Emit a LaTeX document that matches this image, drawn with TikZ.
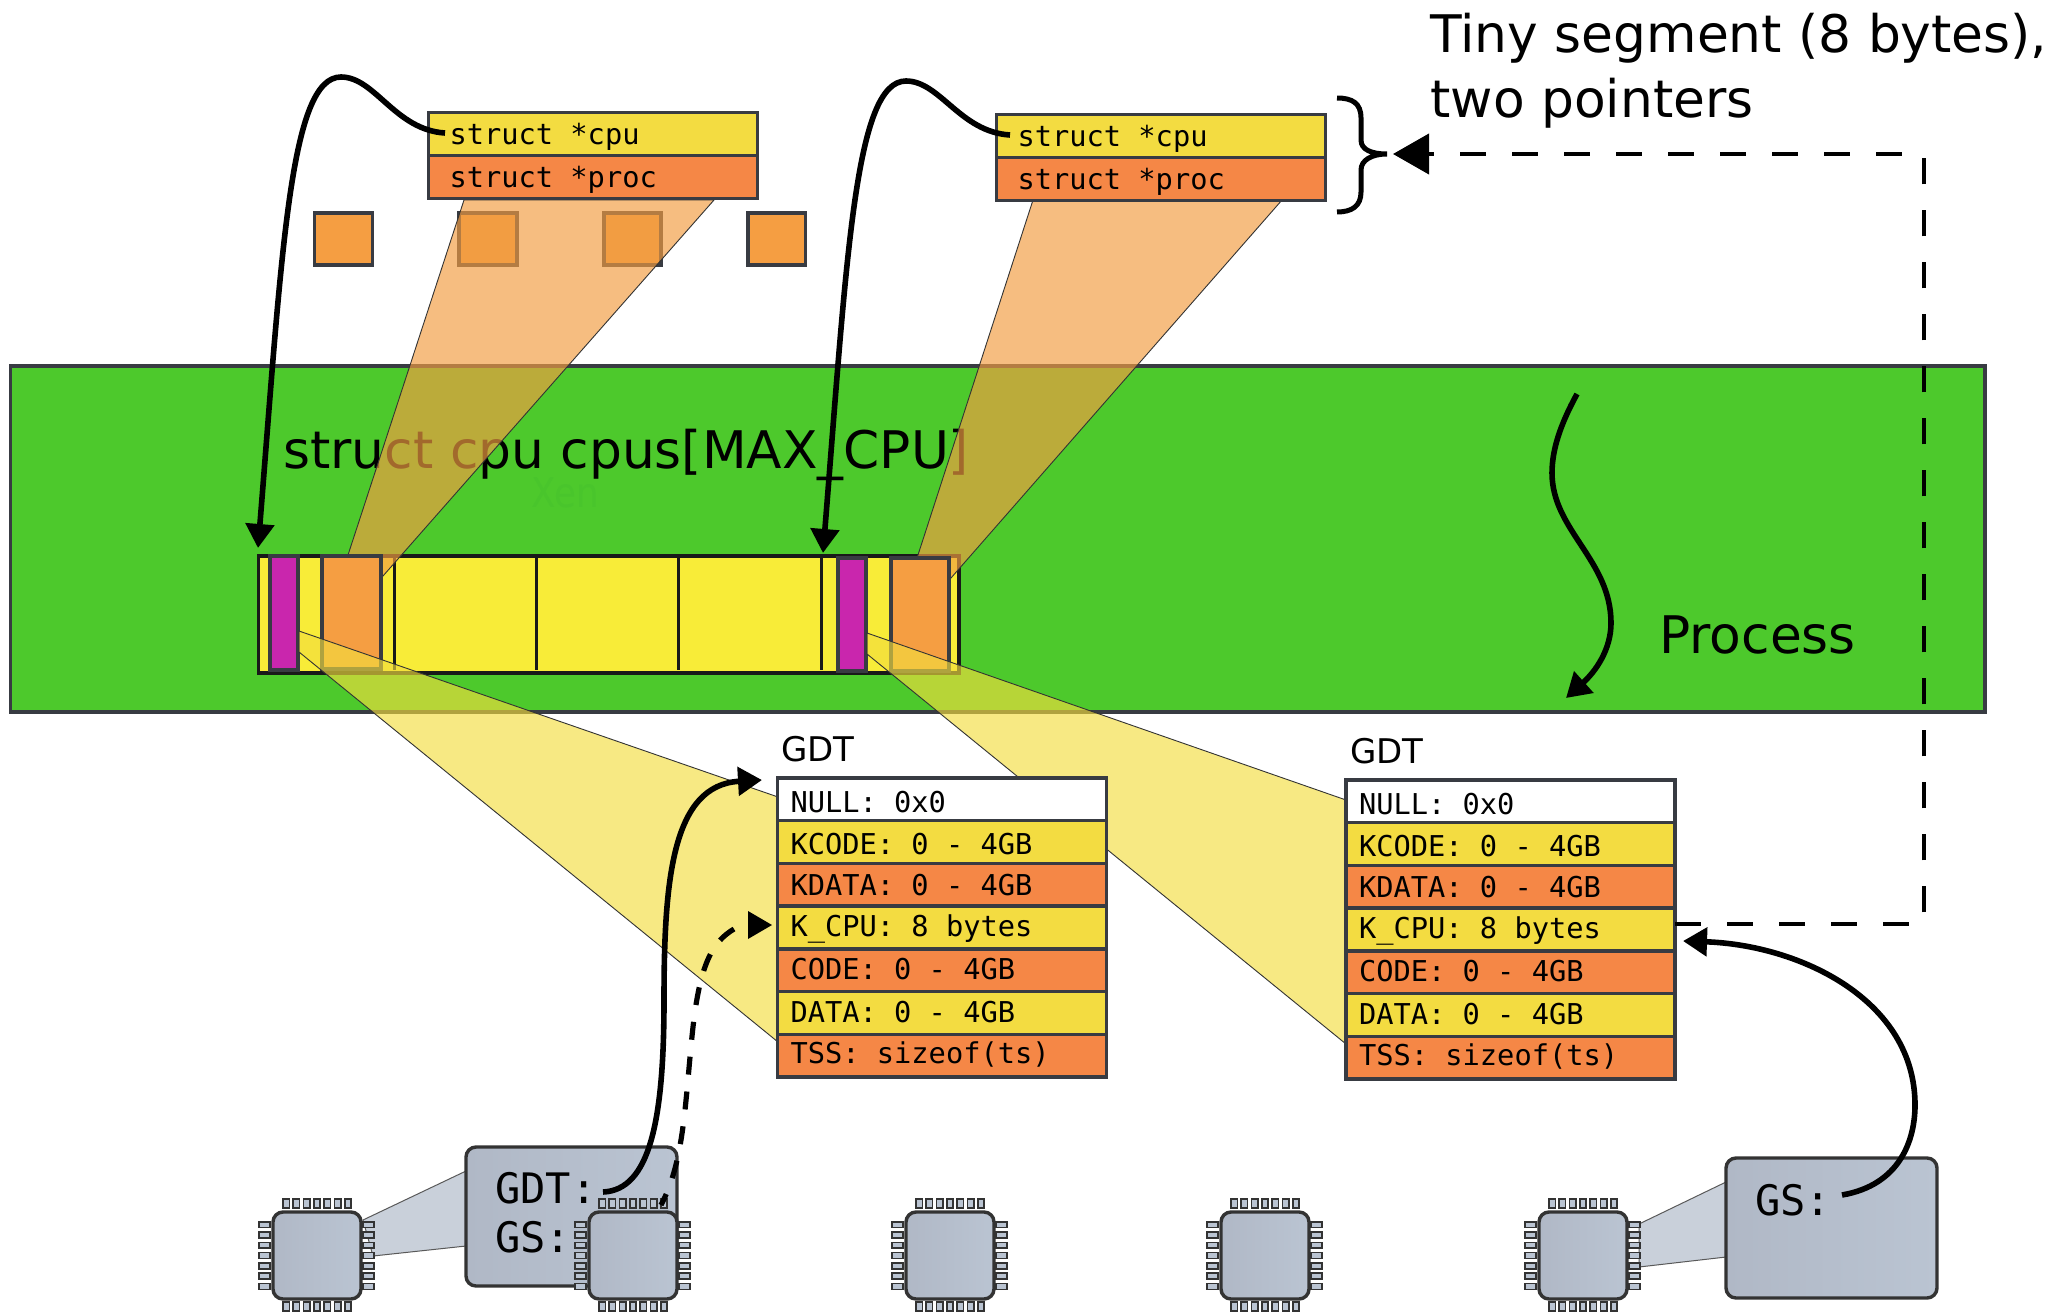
\documentclass[tikz,border=0pt]{standalone}
\usepackage{fontspec}
\setmainfont{DejaVu Sans}
\setmonofont{DejaVu Sans Mono}
\usetikzlibrary{arrows.meta}
\definecolor{procgreen}{HTML}{4DC92C}
\definecolor{xentext}{HTML}{49C52C}
\definecolor{arryellow}{HTML}{F8EC38}
\definecolor{cpupurple}{HTML}{C926AD}
\definecolor{sqorange}{HTML}{F59E42}
\definecolor{wedgeorange}{HTML}{F29D42}
\definecolor{wedgeyellow}{HTML}{F3DD3E}
\definecolor{rowyellow}{HTML}{F3DC41}
\definecolor{roworange}{HTML}{F58746}
\definecolor{edgegray}{HTML}{383B42}
\definecolor{chipa}{HTML}{B0B8C6}
\definecolor{chipb}{HTML}{BAC4D2}
\definecolor{linkgray}{HTML}{C9D0DA}
\newcommand\msp{\kern.602em\relax}
\tikzset{
  plainbox/.style={draw=edgegray,line width=1.7pt},
  arraybox/.style={draw=black!90,line width=1.6pt,fill=arryellow},
  wedgeO/.style={fill=wedgeorange,fill opacity=.67,draw=black!80,line width=.45pt},
  wedgeY/.style={fill=wedgeyellow,fill opacity=.64,draw=black!80,line width=.45pt},
  linkwedge/.style={fill=linkgray,draw=black!65,line width=.5pt},
  chipbody/.style={draw=black!80,line width=1.7pt,rounded corners=5pt,left color=chipa,right color=chipb},
  pinst/.style={draw=black!80,line width=.8pt,fill=chipb},
  rowst/.style={draw=edgegray,line width=1.7pt,anchor=north west,outer sep=0pt,inner ysep=0pt,
     align=left,font=\ttfamily\fontsize{14.35}{16}\selectfont},
  bigtext/.style={anchor=base west,inner sep=0pt,font=\fontsize{25.9}{30}\selectfont},
  midtext/.style={anchor=base west,inner sep=0pt,font=\fontsize{17}{20}\selectfont},
  regtext/.style={anchor=base west,inner sep=0pt,font=\ttfamily\fontsize{21}{24}\selectfont},
  solidarrow/.style={line width=2.8pt,draw=black,-{Triangle[length=12pt,width=14pt]}},
  dashcurve/.style={line width=2.6pt,draw=black,dash pattern=on 9pt off 8.5pt},
  bigdash/.style={line width=2pt,draw=black,dash pattern=on 13pt off 13pt,-{Triangle[length=18pt,width=20pt]}},
}
\newcommand\boxnode[6]{%
  \pgfmathsetmacro\bw{(#4-#2)*.5}\pgfmathsetmacro\bh{(#5-#3)*.5}%
  \node[#6,anchor=north west,minimum width=\bw pt,minimum height=\bh pt,inner sep=0pt,outer sep=0pt] (#1) at (#2,#3) {};}
\newcommand\tablerow[8]{% name x y inset(pt) textwidth(pt) fill depth(pt) text
  \pgfmathsetmacro\rowh{21.35-#7}%
  \node[rowst,fill=#6,inner xsep=#4pt,text width=#5pt,text height=\rowh pt,text depth=#7pt] (#1) at (#2,#3) {#8};}
\newcommand\gdttable[3]{% prefix x y
  \tablerow{#1a}{#2}{#3}{6.5}{151.5}{white}{4}{NULL:\msp 0x0}
  \tablerow{#1b}{#2}{#3+42.7}{6.5}{151.5}{rowyellow}{4.7}{KCODE:\msp 0\msp -\msp 4GB}
  \tablerow{#1c}{#2}{#3+85.4}{6.5}{151.5}{roworange}{5.5}{KDATA:\msp 0\msp -\msp 4GB}
  \tablerow{#1d}{#2}{#3+128.1}{6.5}{151.5}{rowyellow}{6}{K\_CPU:\msp 8\msp bytes}
  \tablerow{#1e}{#2}{#3+170.8}{6.5}{151.5}{roworange}{6.25}{CODE:\msp 0\msp -\msp 4GB}
  \tablerow{#1f}{#2}{#3+213.5}{6.5}{151.5}{rowyellow}{5.75}{DATA:\msp 0\msp -\msp 4GB}
  \tablerow{#1g}{#2}{#3+256.2}{6.5}{151.5}{roworange}{6.5}{TSS:\msp sizeof(ts)}
}
\newcommand\cpuchip[3]{%
  \begin{scope}[shift={(#2,#3)}]
    \foreach \k in {-3,...,3}{
      \draw[pinst] ({\k*10.3-3.2},-56.5) rectangle ({\k*10.3+3.2},-47.5);
      \draw[pinst] ({\k*10.3-3.2},46.5) rectangle ({\k*10.3+3.2},55.5);
      \draw[pinst] (-58,{\k*10.3-2.9}) rectangle (-47,{\k*10.3+2.9});
      \draw[pinst] (46,{\k*10.3-2.9}) rectangle (57,{\k*10.3+2.9});
    }
    \node[chipbody,minimum width=44pt,minimum height=43.5pt,inner sep=0pt] (#1) at (0,0) {};
  \end{scope}}
\begin{document}
\begin{tikzpicture}[x=.5pt,y=-.5pt]
\useasboundingbox (0,0) rectangle (2054,1311);
\fill[white] (0,0) rectangle (2054,1313);
% process band
\boxnode{band}{10.5}{366}{1985}{712}{plainbox,fill=procgreen}
\node[bigtext] (arrtitle) at (283,468) {struct cpu cpus[MAX\_CPU]};
\node[anchor=base west,inner sep=0pt,text=xentext,xscale=.87,font=\fontsize{20.5}{22}\selectfont] (xen) at (531,507) {Xen};
\node[bigtext] (proc) at (1659,653) {Process};
% small squares
\boxnode{sq1}{314.5}{213}{372.5}{265}{plainbox,fill=sqorange}
\boxnode{sq2}{459}{213}{517}{265}{plainbox,fill=sqorange}
\boxnode{sq3}{604}{213}{661}{265}{plainbox,fill=sqorange}
\boxnode{sq4}{748}{213}{805.5}{265}{plainbox,fill=sqorange}
% cpu array
\boxnode{arr}{258.5}{556}{959}{673}{arraybox}
\coordinate (s1t) at (394,557); \coordinate (s1b) at (394,670);
\coordinate (s2t) at (536,557); \coordinate (s2b) at (536,670);
\coordinate (s3t) at (678,557); \coordinate (s3b) at (678,670);
\coordinate (s4t) at (821,557); \coordinate (s4b) at (821,670);
\draw[black!90,line width=1.5pt] (s1t)--(s1b) (s2t)--(s2b) (s3t)--(s3b) (s4t)--(s4b);
% orange wedges
\draw[wedgeO] (464,200)--(714,200)--(383,576)--(348,555)--cycle;
\draw[wedgeO] (1033,200)--(1282,200)--(951,578)--(917,558)--cycle;
% orange and purple parts
\boxnode{orng1}{322}{556}{381}{669}{plainbox,fill=sqorange}
\boxnode{orng2}{891}{558}{949}{671}{plainbox,fill=sqorange}
\boxnode{pur1}{270}{556}{298}{670}{plainbox,fill=cpupurple}
\boxnode{pur2}{838}{558}{866}{671}{plainbox,fill=cpupurple}
% yellow wedges
\draw[wedgeY] (299,631)--(778,797)--(778,1042)--(299,652)--cycle;
\draw[wedgeY] (867,633)--(1346,800)--(1346,1044)--(867,654)--cycle;
% top tables
\tablerow{c1a}{428.5}{112.5}{10.5}{143.5}{rowyellow}{5.5}{struct\msp *cpu}
\tablerow{c1b}{428.5}{155.5}{10.5}{143.5}{roworange}{5.2}{struct\msp *proc}
\tablerow{c2a}{996.5}{114.5}{10.5}{143.5}{rowyellow}{5.5}{struct\msp *cpu}
\tablerow{c2b}{996.5}{157.5}{10.5}{143.5}{roworange}{5.2}{struct\msp *proc}
% GDT tables
\gdttable{g}{777.5}{778}
\gdttable{h}{1346}{780}
\node[midtext] (gdtl1) at (781,761) {GDT};
\node[midtext] (gdtl2) at (1350,763) {GDT};
% cpu links and register boxes
\draw[linkwedge] (363,1220)--(466,1171)--(466,1246)--(373,1256)--cycle;
\draw[linkwedge] (1639,1224)--(1726,1182)--(1726,1257)--(1639,1267)--cycle;
\node[chipbody,anchor=north west,minimum width=105.5pt,minimum height=69.5pt,inner sep=0pt,outer sep=0pt] (reg1) at (466,1147) {};
\node[chipbody,anchor=north west,minimum width=105.5pt,minimum height=70pt,inner sep=0pt,outer sep=0pt] (reg2) at (1726,1158) {};
\node[regtext] (reggdt) at (495,1203) {GDT:};
\node[regtext] (reggs) at (495,1252) {GS:};
\node[regtext] (reggs2) at (1755,1215) {GS:};
% chips
\cpuchip{chip1}{317}{1255.5}
\cpuchip{chip2}{633}{1255.5}
\cpuchip{chip3}{950}{1255.5}
\cpuchip{chip4}{1265}{1255.5}
\cpuchip{chip5}{1583}{1255.5}
% brace
\coordinate (b1) at (1337,98); \coordinate (b2) at (1361,118); \coordinate (b3) at (1361,140);
\coordinate (b4) at (1387,154); \coordinate (b5) at (1361,170); \coordinate (b6) at (1361,192);
\coordinate (b7) at (1337,212);
\draw[line width=2.5pt,line cap=butt] (b1) .. controls (1352,98) and (1361,103) .. (b2)
  -- (b3) .. controls (1361,150) and (1372,154) .. (b4)
  .. controls (1372,154) and (1361,160) .. (b5) -- (b6)
  .. controls (1361,206) and (1352,212) .. (b7);
% labels
\node[bigtext] (tiny1) at (1430,53) {Tiny segment (8 bytes),};
\node[bigtext] (tiny2) at (1430,118) {two pointers};
% arrows
\coordinate (a1s) at (445,133); \coordinate (a1m) at (341,77); \coordinate (a1e) at (258,548);
\draw[solidarrow] (a1s) .. controls (395,130) and (375,77) .. (a1m)
   .. controls (290,77) and (282,250) .. (a1e);
\coordinate (a2s) at (1010,135); \coordinate (a2m) at (906,81); \coordinate (a2e) at (823,553);
\draw[solidarrow] (a2s) .. controls (960,132) and (940,81) .. (a2m)
   .. controls (855,81) and (847,255) .. (a2e);
\coordinate (a3s) at (603,1192); \coordinate (a3m) at (664,1000); \coordinate (a3e) at (762,780);
\draw[solidarrow] (a3s) .. controls (650,1190) and (664,1120) .. (a3m)
   .. controls (664,880) and (672,785) .. (a3e);
\coordinate (a4s) at (661,1205); \coordinate (a4m) at (693,1027); \coordinate (a4e) at (734,929);
\draw[dashcurve] (a4e) .. controls (712,942) and (700,965) .. (a4m)
   .. controls (685,1100) and (685,1160) .. (a4s);
\coordinate (a4tip) at (772,925); \coordinate (a4u) at (748,911); \coordinate (a4d) at (748,939);
\fill[black] (a4u) -- (a4tip) -- (a4d) -- cycle;
\coordinate (a5s) at (1842,1195); \coordinate (a5m) at (1915,1105); \coordinate (a5e) at (1683,941);
\draw[solidarrow] (a5s) .. controls (1900,1185) and (1915,1140) .. (a5m)
   .. controls (1915,1000) and (1800,945) .. (a5e);
\coordinate (p1) at (1577,394); \coordinate (p2) at (1552,473); \coordinate (p3) at (1611,623); \coordinate (p4) at (1566,698);
\draw[solidarrow] (p1) .. controls (1560,425) and (1552,450) .. (p2)
   .. controls (1552,530) and (1611,560) .. (p3)
   .. controls (1611,650) and (1595,672) .. (p4);
\coordinate (dcorner) at (1923.5,154); \coordinate (dend) at (1393,154);
\draw[bigdash] ([yshift=2.75pt]hd.east) -| (dcorner) -- (dend);
\end{tikzpicture}
\end{document}
